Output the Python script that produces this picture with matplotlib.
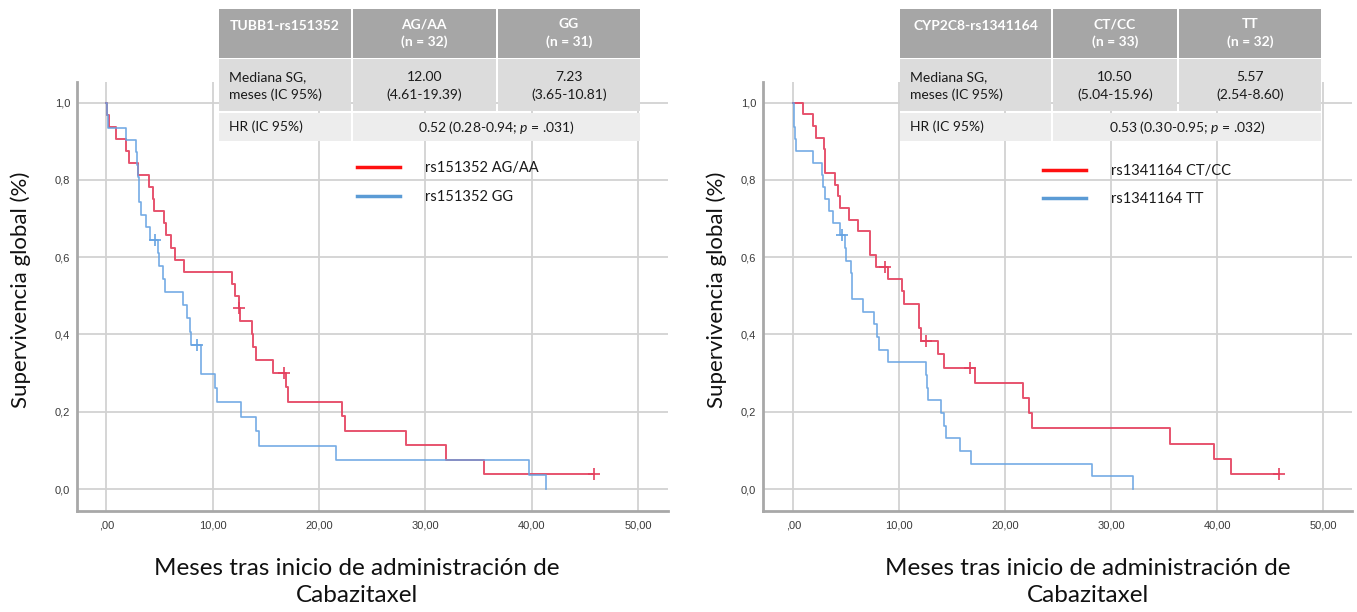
import matplotlib
matplotlib.use("Agg")
import matplotlib.pyplot as plt
from matplotlib.patches import Rectangle
from matplotlib.lines import Line2D

W, H = 1357, 612

# ---- data ----
# left panel: TUBB1-rs151352
l_gene = "TUBB1-rs151352"
l_groups = ["AG/AA", "GG"]
l_n = [32, 31]
l_median = ["12.00", "7.23"]
l_ci = ["(4.61-19.39)", "(3.65-10.81)"]
l_hr = "0.52 (0.28-0.94; $\\mathit{p}$ = .031)"
l_legend = ["rs151352 AG/AA", "rs151352 GG"]
l_red_events = [0.1, 0.25, 0.88, 1.88, 2.1, 2.98, 4.0, 4.4, 4.45, 5.4, 5.6, 6.1, 6.5, 7.3,
                11.85, 12.07, 12.45, 12.6, 13.7, 13.75, 14.1, 15.7, 16.9, 17.1, 22.2, 22.4,
                28.2, 31.9, 35.5]
l_red_cens = [12.52, 16.7, 45.8]
l_blue_events = [0.1, 0.2, 1.88, 2.76, 2.85, 3.0, 3.05, 3.1, 3.3, 3.76, 4.14, 4.86, 4.92,
                 5.3, 5.5, 7.2, 7.58, 7.9, 7.95, 8.9, 8.95, 10.2, 10.4, 12.7, 14.1, 14.4,
                 21.6, 39.7, 41.3]
l_blue_cens = [4.6, 8.55]

# right panel: CYP2C8-rs1341164
r_gene = "CYP2C8-rs1341164"
r_groups = ["CT/CC", "TT"]
r_n = [33, 32]
r_median = ["10.50", "5.57"]
r_ci = ["(5.04-15.96)", "(2.54-8.60)"]
r_hr = "0.53 (0.30-0.95; $\\mathit{p}$ = .032)"
r_legend = ["rs1341164 CT/CC", "rs1341164 TT"]
r_red_events = [0.9, 1.88, 2.1, 2.94, 2.97, 3.0, 3.97, 4.2, 4.44, 5.3, 6.07, 7.2, 7.25, 7.8,
                8.9, 10.3, 10.45, 11.84, 11.9, 12.0, 13.65, 14.2, 17.15, 21.66, 22.2, 22.5,
                35.56, 39.7, 41.3]
r_red_cens = [8.67, 12.56, 16.7, 45.85]
r_blue_events = [0.05, 0.1, 0.2, 0.3, 1.88, 2.72, 2.8, 3.0, 3.38, 3.76, 4.38, 4.9, 5.0, 5.4,
                 5.5, 5.55, 6.57, 7.58, 7.87, 8.05, 8.95, 12.5, 12.6, 12.74, 13.9, 14.2,
                 14.37, 15.7, 16.8, 28.2, 32.0]
r_blue_cens = [4.6]

xticks = [0, 10, 20, 30, 40, 50]
xtick_labels = [",00", "10,00", "20,00", "30,00", "40,00", "50,00"]
yticks = [0.0, 0.2, 0.4, 0.6, 0.8, 1.0]
ytick_labels = ["0,0", "0,2", "0,4", "0,6", "0,8", "1,0"]
ylabel = "Supervivencia global (%)"
xlabel = "Meses tras inicio de administración de\nCabazitaxel"
row_labels = ["Mediana SG,\nmeses (IC 95%)", "HR (IC 95%)"]

RED = "#e4405e"
BLUE = "#66a3e2"

plt.rcParams["font.family"] = ["Lato", "DejaVu Sans"]
plt.rcParams["mathtext.fontset"] = "custom"
plt.rcParams["mathtext.rm"] = "Lato"
plt.rcParams["mathtext.it"] = "Lato:italic"


def km(events, cens):
    at_risk = len(events) + len(cens)
    times = sorted(set(events) | set(cens))
    s = 1.0
    xs, ys, cx, cy = [0.0], [1.0], [], []
    for t in times:
        d = events.count(t)
        c = cens.count(t)
        if d:
            s *= 1 - d / at_risk
            xs.append(t)
            ys.append(s)
        if c:
            cx.append(t)
            cy.append(s)
        at_risk -= d + c
    if xs[-1] < times[-1]:
        xs.append(times[-1])
        ys.append(s)
    return xs, ys, cx, cy


def fx(px): return px / W
def fy(py): return 1 - py / H


fig = plt.figure(figsize=(W / 100, H / 100), dpi=100)
fig.patch.set_facecolor("white")


def panel(left, right, xlim, red, blue, legend, leg_xy, lab_x, ylab_x):
    ax = fig.add_axes([fx(left), fy(510.7), fx(right - left), (510.7 - 81.7) / H])
    ax.set_xlim(*xlim)
    ax.set_ylim(-0.056, 1.054)
    for ev, ce, col, lw in [(red[0], red[1], RED, 1.4), (blue[0], blue[1], BLUE, 1.2)]:
        xs, ys, cx, cy = km(ev, ce)
        ax.step(xs, ys, where="post", color=col, lw=lw, alpha=0.9, zorder=3)
        ax.plot(cx, cy, "+", color=col, ms=8, mew=1.2, zorder=4)
    ax.set_xticks(xticks)
    ax.set_xticklabels(xtick_labels)
    ax.set_yticks(yticks)
    ax.set_yticklabels(ytick_labels)
    ax.tick_params(length=0, labelsize=8, colors="#3a3a3a", pad=7)
    ax.tick_params(axis="y", pad=5)
    for lab in ax.get_xticklabels() + ax.get_yticklabels():
        lab.set_fontfamily(["Liberation Sans"])
    ax.grid(True, color="#d2d2d2", lw=1.3)
    ax.set_axisbelow(True)
    for sp in ["top", "right"]:
        ax.spines[sp].set_visible(False)
    for sp in ["left", "bottom"]:
        ax.spines[sp].set_color("#a8a8a8")
        ax.spines[sp].set_linewidth(2)
    ax.set_ylabel(ylabel, fontsize=16, color="#111111")
    ax.yaxis.set_label_coords(fx(ylab_x), fy(290), transform=fig.transFigure)
    ax.yaxis.label.set_va("center")
    ax.set_xlabel(xlabel, fontsize=17.5, color="#111111", linespacing=1.4)
    ax.xaxis.set_label_coords(fx(lab_x), fy(582), transform=fig.transFigure)
    ax.xaxis.label.set_va("center")
    handles = [Line2D([], [], color="#ff1010", lw=2.5), Line2D([], [], color="#5b9bd5", lw=2.5)]
    ax.legend(handles, legend, loc="upper left", bbox_to_anchor=(fx(leg_xy[0]), fy(leg_xy[1])),
              bbox_transform=fig.transFigure, frameon=False, fontsize=10.5, borderpad=0,
              borderaxespad=0, handlelength=2.95, handletextpad=1.7, labelspacing=1.0,
              labelcolor="#1a1a1a")
    return ax


def table(x0, d1, d2, x1, gene, groups, ns, med, ci, hr):
    rows = [(9, 57.5, "#a6a6a6"), (59.5, 110.5, "#dcdcdc"), (112.5, 141, "#ededed")]
    cols = [(x0, d1 - 1), (d1 + 1, d2 - 1), (d2 + 1, x1)]
    for i, (t, b, c) in enumerate(rows):
        spans = cols if i < 2 else [cols[0], (cols[1][0], cols[2][1])]
        for a, e in spans:
            fig.add_artist(Rectangle((fx(a), fy(b)), fx(e - a), (b - t) / H, transform=fig.transFigure,
                                     facecolor=c, edgecolor="none", zorder=5))
    kw = dict(transform=fig.transFigure, zorder=6, fontsize=10, linespacing=1.45)
    cx = [(a + e) / 2 for a, e in cols]
    fig.text(fx(cx[0]), fy(26), gene, ha="center", va="center", color="white", weight="bold", **kw)
    for j in range(2):
        fig.text(fx(cx[j + 1]), fy(33), f"{groups[j]}\n(n = {ns[j]})", ha="center", va="center",
                 color="white", weight="bold", **kw)
        fig.text(fx(cx[j + 1]), fy(86), f"{med[j]}\n{ci[j]}", ha="center", va="center",
                 color="#1a1a1a", **kw)
    fig.text(fx(x0 + 10), fy(86), row_labels[0], ha="left", va="center", color="#1a1a1a", **kw)
    fig.text(fx(x0 + 10), fy(127), row_labels[1], ha="left", va="center", color="#1a1a1a", **kw)
    fig.text(fx((cols[1][0] + cols[2][1]) / 2), fy(127), hr, ha="center", va="center",
             color="#1a1a1a", **kw)


panel(77, 668, (-2.75, 52.8), (l_red_events, l_red_cens), (l_blue_events, l_blue_cens),
      l_legend, (357, 161.5), 357, 20.7)
panel(763.3, 1352, (-2.83, 52.7), (r_red_events, r_red_cens), (r_blue_events, r_blue_cens),
      r_legend, (1042.7, 163.8), 1088, 716.7)
table(219.3, 351.7, 496.7, 640, l_gene, l_groups, l_n, l_median, l_ci, l_hr)
table(900, 1052.3, 1177.7, 1321, r_gene, r_groups, r_n, r_median, r_ci, r_hr)

fig.savefig("out.png", dpi=100, facecolor="white")
